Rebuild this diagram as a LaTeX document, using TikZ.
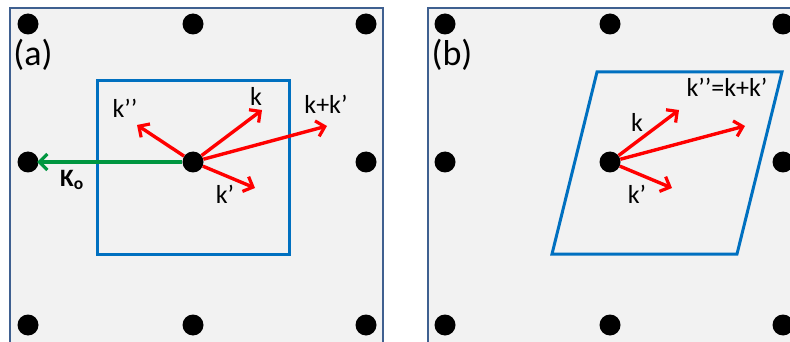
\documentclass[tikz,border=0pt]{standalone}
\usepackage{fontspec}
\setmainfont{Carlito}
\usetikzlibrary{arrows.meta, positioning}
\definecolor{panel-edge}{RGB}{63,96,144}
\definecolor{panel-fill}{RGB}{242,242,242}
\definecolor{cell-blue}{RGB}{0,112,192}
\definecolor{vec-red}{RGB}{255,0,0}
\definecolor{vec-green}{RGB}{0,150,64}

\begin{document}
\begin{tikzpicture}[
    x=1pt, y=-1pt,
    panel/.style={draw=panel-edge, fill=panel-fill, line width=2.8pt},
    cell/.style={draw=cell-blue, line width=3pt, line join=miter},
    site/.style={circle, fill=black, inner sep=0pt, minimum size=21pt},
    vec/.style={-{Straight Barb[length=8pt, width=16pt, line width=3.2pt]}, line width=3.4pt, color=vec-red},
    gvec/.style={-{Straight Barb[length=8pt, width=16pt, line width=3.2pt]}, line width=3.4pt, color=vec-green},
    lbl/.style={font=\fontsize{26}{28}\selectfont, inner sep=0pt},
    tag/.style={font=\fontsize{36}{38}\selectfont, inner sep=0pt}
]
    \useasboundingbox (0,0) rectangle (790,342);
    \clip (0,0) rectangle (790,342);

    % Panels
    \draw[panel] (10,8) rectangle (383,360);
    \draw[panel] (428,8) rectangle (802,360);

    % Lattice sites
    \foreach \px/\pn in {0/a, 417/b} {
        \foreach \cx/\ci in {28/1, 193/2, 366/3} {
            \foreach \ry/\rj in {24/1, 162/2, 325/3} {
                \node[site] (\pn\ci\rj) at (\px+\cx, \ry) {};
            }
        }
    }

    \node[tag] (taga) at (33,55) {(a)};
    \node[tag] (tagb) at (452,55) {(b)};

    % Unit cells
    \draw[cell] (97,81) rectangle (289,254);
    \draw[cell] (597,72) -- (782,72) -- (737,254) -- (552,254) -- cycle;

    % Vectors (a)
    \coordinate (ka) at (262,110);
    \coordinate (kpa) at (255,188);
    \coordinate (ksa) at (327,126);
    \coordinate (kppa) at (137,125);
    \coordinate (Ko) at (37,162);
    \draw[gvec] (a22.west) -- (Ko);
    \draw[vec] (a22) -- (ka);
    \draw[vec] (a22) -- (kpa);
    \draw[vec] (a22) -- (ksa);
    \draw[vec] (a22) -- (kppa);
    \node[lbl] (lka) at (256,96) {k};
    \node[lbl] (lkpa) at (225,194) {k’};
    \node[lbl] (lksa) at (326,104) {k+k’};
    \node[lbl] (lkppa) at (125,108) {k’’};
    \node[lbl, font=\fontsize{25}{27}\selectfont\bfseries] (lKo) at (72,180) {K\textsubscript{o}};

    % Vectors (b)
    \coordinate (kb) at (679,110);
    \coordinate (kpb) at (672,188);
    \coordinate (ksb) at (745,126);
    \draw[vec] (b22) -- (kb);
    \draw[vec] (b22) -- (kpb);
    \draw[vec] (b22) -- (ksb);
    \node[lbl] (lkb) at (637,122) {k};
    \node[lbl] (lkpb) at (637,194) {k’};
    \node[lbl] (lksb) at (727,87) {k’’=k+k’};
\end{tikzpicture}
\end{document}
